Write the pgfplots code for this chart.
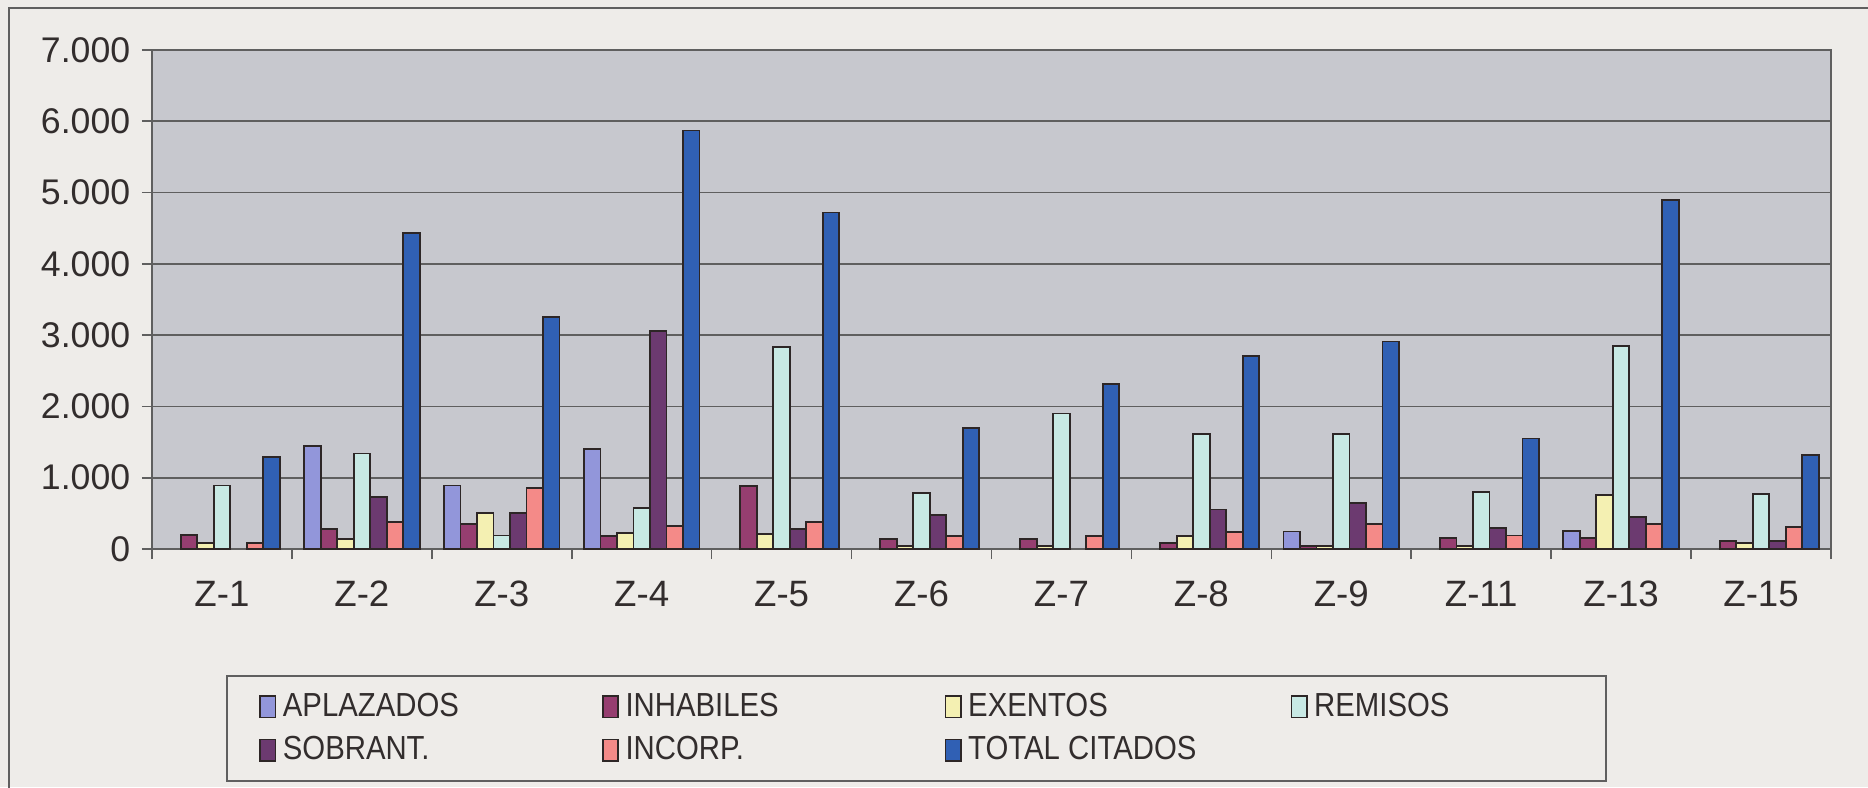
\documentclass[border=0pt]{standalone}
\usepackage{fontspec}
\setmainfont{Liberation Sans}
\newfontfamily\narrowfont{Liberation Sans}[FakeStretch=0.88]
\usepackage{pgfplots}
\usepackage{pgfplotstable}
\pgfplotsset{compat=1.18}

\definecolor{paper}{RGB}{238,236,233}
\definecolor{plotbg}{RGB}{199,200,206}
\definecolor{cApl}{RGB}{146,150,218}
\definecolor{cInh}{RGB}{150,62,112}
\definecolor{cExe}{RGB}{244,240,178}
\definecolor{cRem}{RGB}{200,233,228}
\definecolor{cSob}{RGB}{108,58,112}
\definecolor{cInc}{RGB}{244,138,136}
\definecolor{cTot}{RGB}{48,96,180}
\definecolor{edge}{RGB}{45,38,38}
\definecolor{gridc}{RGB}{95,95,95}
\definecolor{tickc}{RGB}{50,45,45}

\pgfplotstableread{
x  apl  inh  exe  rem   sob   inc  tot
0  nan  200  80   890   nan   80   1290
1  1440 280  140  1340  730   380  4430
2  890  350  500  190   500   850  3250
3  1400 185  230  580   3060  320  5870
4  nan  880  210  2830  280   375  4720
5  nan  140  40   790   480   180  1700
6  nan  140  40   1900  nan   185  2310
7  nan  80   185  1610  555   235  2710
8  245  40   40   1610  650   350  2910
9  nan  150  40   800   290   190  1550
10 250  160  755  2850  450   350  4900
11 nan  110  80   770   110   305  1320
}\datatab

\begin{document}
\begin{tikzpicture}
\useasboundingbox (-45.6pt,-71.4pt) rectangle (514.8pt,164.7pt);
\clip (-45.6pt,-71.4pt) rectangle (514.8pt,164.7pt);
\fill[paper] (-45.6pt,-71.4pt) rectangle (514.8pt,164.7pt);
\draw[gridc, line width=0.5pt] (-42.9pt,-72pt) -- (-42.9pt,162.3pt) -- (516pt,162.3pt);
\begin{axis}[
  at={(0,0)}, anchor=south west,
  width=503.7pt, height=149.7pt, scale only axis,
  xmin=-0.5, xmax=11.5, ymin=0, ymax=7000,
  enlargelimits=false,
  ybar=0pt, bar width=0.118,
  axis background/.style={fill=plotbg},
  axis line style={gridc, line width=0.6pt},
  ymajorgrids, grid style={gridc, line width=0.5pt},
  ytick={0,1000,...,7000},
  xtick={-0.5,0.5,...,11.5}, xticklabels={},
  extra x ticks={0,1,...,11},
  extra x tick labels={Z-1,Z-2,Z-3,Z-4,Z-5,Z-6,Z-7,Z-8,Z-9,Z-11,Z-13,Z-15},
  extra x tick style={major tick length=0pt, grid=none},
  tick pos=left,
  tick align=outside, major tick length=3pt,
  tick style={gridc, line width=0.5pt},
  yticklabel style={font=\fontsize{10.7}{12}\selectfont, text=tickc},
  xticklabel style={font=\fontsize{11}{13}\selectfont, text=tickc, yshift=-6pt},
  /pgf/number format/1000 sep={.},
  /pgf/number format/assume math mode=true,
  legend columns=4,
  legend cell align=left,
  legend image code/.code={\draw[#1, line width=0.5pt] (0pt,-3.2pt) rectangle (4.6pt,3.2pt);},
  legend style={at={(0.0443,-0.2532)}, anchor=north west,
    draw=gridc, line width=0.5pt, fill=paper,
    font=\narrowfont\fontsize{10}{12}\selectfont, text=tickc,
    inner xsep=9.6pt, inner ysep=3pt, row sep=0.5pt,
    /tikz/every even column/.append style={column sep=1.5pt}},
  every axis plot/.append style={draw=edge, line width=0.55pt},
]
\addplot[fill=cApl] table[x=x,y=apl]{\datatab};
\addlegendentry{\makebox[92.2pt][l]{APLAZADOS}}
\addplot[fill=cInh] table[x=x,y=inh]{\datatab};
\addlegendentry{\makebox[92.2pt][l]{INHABILES}}
\addplot[fill=cExe] table[x=x,y=exe]{\datatab};
\addlegendentry{\makebox[93.2pt][l]{EXENTOS}}
\addplot[fill=cRem] table[x=x,y=rem]{\datatab};
\addlegendentry{\makebox[76pt][l]{REMISOS}}
\addplot[fill=cSob] table[x=x,y=sob]{\datatab};
\addlegendentry{\makebox[92.2pt][l]{SOBRANT.}}
\addplot[fill=cInc] table[x=x,y=inc]{\datatab};
\addlegendentry{\makebox[92.2pt][l]{INCORP.}}
\addplot[fill=cTot] table[x=x,y=tot]{\datatab};
\addlegendentry{\makebox[93.2pt][l]{TOTAL CITADOS}}
\end{axis}
\end{tikzpicture}
\end{document}
